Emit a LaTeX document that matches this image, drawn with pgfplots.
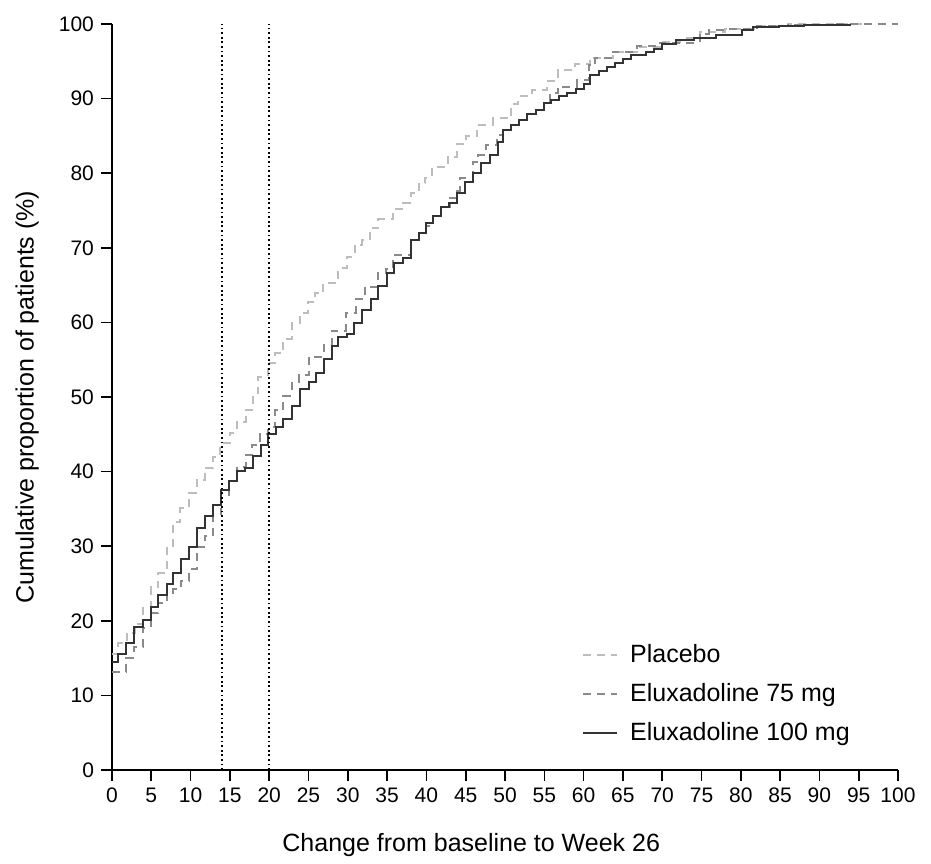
\documentclass[border=0pt]{standalone}
\usepackage{fontspec}
\setmainfont{Liberation Sans}
\usepackage{pgfplots}
\pgfplotsset{compat=1.18}
\definecolor{placebo}{HTML}{BDBDBD}
\definecolor{mgsf}{HTML}{8A8A8A}
\definecolor{mgoh}{HTML}{333333}
\begin{document}
\begin{tikzpicture}
\begin{axis}[
  scale only axis, width=393pt, height=373pt,
  xmin=0, xmax=100, ymin=0, ymax=100,
  xtick distance=5, ytick distance=10,
  axis x line*=bottom, axis y line*=left,
  axis line style={-, line width=0.8pt},
  tick align=outside, major tick length=5.5pt,
  tick style={line width=0.8pt, black},
  /pgf/number format/assume math mode=true,
  tick label style={font=\fontsize{10.5}{12}\selectfont},
  xlabel={Change from baseline to Week 26},
  ylabel={Cumulative proportion of patients (\%)},
  label style={font=\fontsize{12.5}{14}\selectfont},
  xlabel style={at={(axis description cs:0.457,-0.1005)}, anchor=center},
  ylabel style={at={(axis description cs:-0.108,0.5)}, anchor=center},
  legend cell align=left,
  legend image code/.code={\draw[#1] (0pt,0pt) -- (17pt,0pt); \path (21pt,0pt);},
  legend style={draw=none, fill=none, at={(axis cs:59,18)}, anchor=north west,
    font=\fontsize{12.5}{14}\selectfont, row sep=5pt},
  every axis plot/.append style={line width=1pt},
]
\addplot[placebo, const plot, dash pattern=on 4pt off 3pt] coordinates {
(0,15.5)(0.8,17)(1.9,18.4)(2.9,19.6)(3.9,21.7)(4.9,24.5)(5.9,26.4)(7.0,29.9)(7.7,33.2)(8.7,35.1)
(9.8,37.1)(10.8,38.9)(11.8,40.5)(12.9,42)(13.8,43.8)(15,45.2)(15.9,46.7)(17,48.3)(18,50.5)(18.6,52.7)
(19.8,54.5)(20.8,55.9)(21.8,57.8)(22.9,59.9)(23.9,61.2)(24.9,62.7)(25.8,63.9)(26.9,65.3)(28.8,67.3)(29.9,68.8)
(30.9,70.4)(31.8,71)(32.8,72.6)(33.9,73.8)(35.7,75.2)(37,76)(38,77.3)(39,78.7)(39.8,79.4)(40.7,80.8)
(42.7,82.2)(43.9,83.9)(45,85)(46.5,86.5)(48.5,87.4)(50.8,89.3)(51.7,90.3)(53.4,91.1)(55.3,92.3)(56.7,93.8)
(58.9,94.6)(60.8,95.5)(63.7,96.2)(66.8,96.9)(69.7,97.6)(72.3,98.1)(74.8,98.9)(78,99.3)(82,99.7)(86,100)(96,100)
};
\addlegendentry{Placebo}
\addplot[mgsf, const plot, dash pattern=on 4pt off 3pt] coordinates {
(0,13.1)(1.8,15)(2.8,16.5)(3.9,19.1)(4.9,21)(5.9,22.4)(7,23.5)(7.8,24.2)(8.8,25.3)(9.8,26.9)
(10.8,29.9)(11.8,31.4)(12.9,34.3)(13.9,36.9)(14.9,38.7)(15.9,40.6)(17,42.2)(17.8,43.5)(18.8,45)(19.9,46)
(20.8,48.2)(21.8,50.2)(22.9,52)(23.8,52.9)(25,55.4)(27,57)(28,58.9)(29.8,61.3)(31,63.1)(32.2,64.8)
(33.8,66.6)(34.9,67.2)(35.8,69.1)(38,71)(39.1,72)(40,72.9)(40.9,74.3)(41.8,75.5)(43,76.7)(43.9,77.6)
(44.3,79.3)(45.9,81.5)(46.6,82.4)(47.6,83.8)(49,85.1)(49.8,85.8)(50.8,86.4)(51.8,87.1)(52.8,88)(53.9,88.5)
(55,89.4)(55.7,90.7)(56.7,91.6)(59.1,92.5)(60.7,94.5)(61.5,95.4)(63.7,96.3)(66.8,97)(69.7,97.5)(74.8,98.7)
(76,99.2)(78,99.3)(82,99.7)(86,99.9)(92,100)(100,100)
};
\addlegendentry{Eluxadoline 75 mg}
\addplot[mgoh, const plot] coordinates {
(0,14.5)(0.7,15.5)(1.8,17)(2.8,19.2)(3.9,20.1)(4.9,21.9)(5.9,23.5)(7.0,24.9)(7.7,26.4)(8.8,28.3)
(9.8,29.9)(10.8,32.4)(11.8,34)(12.9,35.5)(13.9,37.6)(14.9,38.7)(15.9,40.1)(16.9,40.5)(18,42.1)(19,43.6)
(19.9,45)(20.9,46)(21.8,47.1)(22.9,48.8)(23.9,51.1)(25,52)(26,53.2)(27,55.1)(28,56.9)(28.8,58)
(29.9,58.4)(30.8,59.9)(31.8,61.7)(32.9,63.1)(33.9,64.9)(35,66.6)(35.9,67.9)(37,68.6)(38,71)(39.1,72)
(39.9,73.3)(40.9,74.3)(41.8,75.5)(42.9,76)(43.9,77.3)(44.9,78.8)(45.9,80)(47,81.3)(48.1,82.4)(49.1,84.2)
(49.8,85.8)(50.8,86.4)(51.8,87.1)(52.8,88)(53.9,88.5)(55,89.4)(55.9,89.8)(56.9,90.3)(57.9,90.8)(59,91.3)
(60,91.9)(60.8,93.2)(61.9,93.7)(63,94.3)(64,94.8)(65,95.3)(66,95.8)(68,96.3)(69,96.7)(70,97.3)
(71.8,97.8)(74,98.1)(76.9,98.5)(80.1,99.2)(81.6,99.6)(84.8,99.7)(88,99.9)(94,99.9)
};
\addlegendentry{Eluxadoline 100 mg}
\addplot[black, line width=0.9pt, dash pattern=on 0.9pt off 1.4pt, forget plot] coordinates {(14,0)(14,100)};
\addplot[black, line width=0.9pt, dash pattern=on 0.9pt off 1.4pt, forget plot] coordinates {(20,0)(20,100)};
\end{axis}
\path (-56pt,-43pt) rectangle (409.5pt,385pt);
\end{tikzpicture}
\end{document}
